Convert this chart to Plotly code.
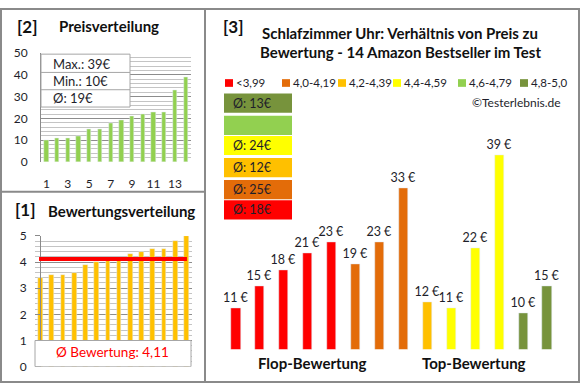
import plotly.graph_objects as go

W, H = 580, 390

# ---------------- data ----------------
prices = [11, 15, 18, 21, 23, 19, 23, 33, 12, 11, 22, 39, 10, 15]
ratings = [3.4, 3.5, 3.5, 3.6, 3.9, 4.0, 4.1, 4.1, 4.3, 4.4, 4.5, 4.5, 4.8, 5.0]
cat_labels = ["<3,99", "4,0-4,19", "4,2-4,39", "4,4-4,59", "4,6-4,79", "4,8-5,0"]
cat_colors = ["#FF0000", "#E36C09", "#FFC000", "#FFFF00", "#92D050", "#77933C"]
cat_bounds = [0.0, 4.0, 4.2, 4.4, 4.6, 4.8]
price_ticks = [1, 3, 5, 7, 9, 11, 13]
group_labels = ["Flop-Bewertung", "Top-Bewertung"]

FONT = "Lato"
TXT = "#1e1e2a"
GRID_MAJ = "#8c8c8c"
GRID_MIN = "#c4c4c4"
BORDER = "#8a8a8a"


def px(x):
    return x / W


def py(y):
    return 1 - y / H


def cat_of(r):
    return max(k for k, b in enumerate(cat_bounds) if r >= b - 1e-9)


n = len(prices)
idx = list(range(1, n + 1))
price_sorted = sorted(prices)
rating_sorted = sorted(ratings)
cats = [cat_of(r) for r in ratings]
bar_colors = [cat_colors[c] for c in cats]
mean_rating = sum(ratings) / n
mean_price = sum(prices) / n

fig = go.Figure()

# [2] price distribution
fig.add_trace(go.Bar(x=idx, y=price_sorted, marker_color="#92D050", width=0.4,
                     xaxis="x", yaxis="y", showlegend=False, hoverinfo="skip"))
# [1] rating distribution
fig.add_trace(go.Bar(x=idx, y=rating_sorted, marker_color="#FFC000", width=0.42,
                     xaxis="x2", yaxis="y2", showlegend=False, hoverinfo="skip"))
# [3] price vs rating
fig.add_trace(go.Bar(x=idx, y=prices, marker_color=bar_colors, width=0.38,
                     text=[f"{p} €" for p in prices], textposition="outside",
                     constraintext="none",
                     textfont=dict(family=FONT, size=12.5, color=TXT),
                     cliponaxis=False, xaxis="x3", yaxis="y3",
                     showlegend=False, hoverinfo="skip"))

tick_font = dict(family=FONT, size=12, color=TXT)

layout = dict(
    width=W, height=H, margin=dict(l=0, r=0, t=0, b=0),
    paper_bgcolor="white", plot_bgcolor="white",
    bargap=0,
    xaxis=dict(domain=[px(41), px(191)], range=[0.5, 14.5], tickvals=price_ticks,
               showgrid=False, zeroline=False, showline=False, ticks="",
               ticklabelstandoff=13, tickfont=tick_font),
    yaxis=dict(domain=[py(160), py(47)], range=[0, 50], dtick=10,
               showgrid=True, gridcolor=GRID_MAJ, gridwidth=1,
               minor=dict(dtick=2, showgrid=True, gridcolor=GRID_MIN, gridwidth=1),
               zeroline=False, showline=True, linecolor=BORDER, ticks="",
               ticklabelstandoff=10, tickfont=tick_font),
    xaxis2=dict(domain=[px(35), px(192)], range=[0.5, 14.5], showgrid=False,
                zeroline=False, showline=False, showticklabels=False, ticks=""),
    yaxis2=dict(domain=[py(373), py(237)], range=[0, 5], dtick=1,
                showgrid=True, gridcolor=GRID_MAJ,
                minor=dict(dtick=0.2, showgrid=True, gridcolor=GRID_MIN),
                zeroline=False, showline=True, linecolor=BORDER,
                ticks="outside", ticklen=5, tickcolor=BORDER,
                ticklabelstandoff=6, tickfont=tick_font),
    xaxis3=dict(domain=[px(224), px(559)], range=[0.5, 14.5], visible=False),
    yaxis3=dict(domain=[py(355), py(100)], range=[3.43, 48.3], visible=False),
)

shapes = []
annotations = []

# borders
shapes.append(dict(type="rect", xref="paper", yref="paper", x0=px(1), x1=px(579),
                   y0=py(389), y1=py(1), line=dict(color=BORDER, width=2), layer="above"))
shapes.append(dict(type="line", xref="paper", yref="paper", x0=px(205), x1=px(205),
                   y0=py(389), y1=py(1), line=dict(color=BORDER, width=2)))
shapes.append(dict(type="line", xref="paper", yref="paper", x0=px(1), x1=px(205),
                   y0=py(191), y1=py(191), line=dict(color=BORDER, width=2)))

# price info box
shapes.append(dict(type="rect", xref="paper", yref="paper", x0=px(41), x1=px(130),
                   y0=py(103), y1=py(48), fillcolor="white",
                   line=dict(color="#a6a6a6", width=1)))
for yy in (67, 85):
    shapes.append(dict(type="line", xref="paper", yref="paper", x0=px(41), x1=px(130),
                       y0=py(yy), y1=py(yy), line=dict(color="#a6a6a6", width=1)))
for txt, yy in ((f"Max.: {max(prices)}€", 58), (f"Min.: {min(prices)}€", 76),
                (f"Ø: {round(mean_price)}€", 94)):
    annotations.append(dict(x=px(51), y=py(yy), xref="paper", yref="paper", text=txt,
                            showarrow=False, xanchor="left", yanchor="middle",
                            font=dict(family=FONT, size=13, color=TXT)))

# red mean line and rating box
shapes.append(dict(type="line", xref="x2", yref="y2", x0=0.86, x1=14.05,
                   y0=mean_rating, y1=mean_rating, line=dict(color="#FF0000", width=4)))
shapes.append(dict(type="rect", xref="paper", yref="y2", x0=px(35), x1=px(191),
                   y0=0, y1=1, fillcolor="white", line=dict(color="#a6a6a6", width=1),
                   layer="above"))
annotations.append(dict(x=px(112), y=py(358), xref="paper", yref="paper",
                        text="Ø Bewertung: " + f"{mean_rating:.2f}".replace(".", ","),
                        showarrow=False, xanchor="center", yanchor="middle",
                        font=dict(family=FONT, size=13.5, color="#FF0000")))

# titles
title_font = dict(family=FONT, size=15, color="#111111")
num_font = dict(family=FONT, size=17, color="#111111")
for txt, x, y, f in (("<b>[2]</b>", 27, 19, num_font), ("<b>Preisverteilung</b>", 109, 19, title_font),
                     ("<b>[1]</b>", 25, 210, num_font), ("<b>Bewertungsverteilung</b>", 121, 211, title_font),
                     ("<b>[3]</b>", 233, 19, num_font),
                     ("<b>Schlafzimmer Uhr: Verhältnis von Preis zu</b>", 400, 26, title_font),
                     ("<b>Bewertung - 14 Amazon Bestseller im Test</b>", 400, 46, title_font)):
    annotations.append(dict(x=px(x), y=py(y), xref="paper", yref="paper", text=txt,
                            showarrow=False, xanchor="center", yanchor="middle", font=f))

# legend
leg_x = [225, 282, 338, 393, 458, 520]
for lab, col, x in zip(cat_labels, cat_colors, leg_x):
    shapes.append(dict(type="rect", xref="paper", yref="paper", x0=px(x), x1=px(x + 8),
                       y0=py(82), y1=py(74), fillcolor=col, line=dict(width=0)))
    annotations.append(dict(x=px(x + 9), y=py(78), xref="paper", yref="paper", text=lab,
                            showarrow=False, xanchor="left", yanchor="middle",
                            font=dict(family=FONT, size=11.5, color=TXT)))
annotations.append(dict(x=px(563), y=py(98), xref="paper", yref="paper", text="©Testerlebnis.de",
                        showarrow=False, xanchor="right", yanchor="middle",
                        font=dict(family=FONT, size=12, color=TXT)))

# category average boxes
box_tops = [200, 179, 156, 133, 112, 89]
for c, top in enumerate(box_tops):
    vals = [p for p, k in zip(prices, cats) if k == c]
    shapes.append(dict(type="rect", xref="paper", yref="paper", x0=px(224), x1=px(292),
                       y0=py(top + 20), y1=py(top), fillcolor=cat_colors[c], line=dict(width=0)))
    if vals:
        avg = sum(vals) / len(vals)
        annotations.append(dict(x=px(252), y=py(top + 10), xref="paper", yref="paper",
                                text=f"Ø: {int(avg + 0.5)}€", showarrow=False,
                                xanchor="center", yanchor="middle",
                                font=dict(family=FONT, size=12.5, color=TXT)))

# group labels
for lab, x in zip(group_labels, (312, 474)):
    annotations.append(dict(x=px(x), y=py(369), xref="paper", yref="paper", text=f"<b>{lab}</b>",
                            showarrow=False, xanchor="center", yanchor="middle",
                            font=dict(family=FONT, size=15, color="#111111")))

layout["shapes"] = shapes
layout["annotations"] = annotations
fig.update_layout(**layout)
fig.write_html("out.html", config={"displayModeBar": False},
               post_script="document.body.style.margin='0';document.body.style.overflow='hidden';")
